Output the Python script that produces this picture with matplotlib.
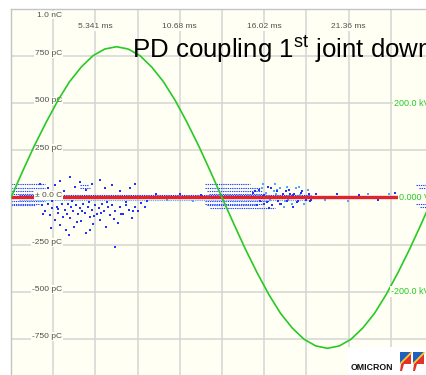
import matplotlib
matplotlib.use("Agg")
import matplotlib.pyplot as plt
from matplotlib.patches import Polygon, Rectangle

plt.rcParams["font.family"] = ["Liberation Sans", "DejaVu Sans"]
plt.rcParams["mathtext.fontset"] = "custom"
plt.rcParams["mathtext.rm"] = "Liberation Sans"

# -----------------------------------------------------------------------------
# data (one mains cycle, charge in pC, voltage in kV)
# -----------------------------------------------------------------------------
cycle_ms = 26.705
grid_ms = [2.67, 5.341, 8.01, 10.68, 13.35, 16.02, 18.69, 21.36, 24.03]
time_label_ms = [5.341, 10.68, 16.02, 21.36]
time_labels = ["5.341 ms", "10.68 ms", "16.02 ms", "21.36 ms"]

charge_grid = [-750, -500, -250, 0, 250, 500, 750]
charge_labels = ["-750 pC", "-500 pC", "-250 pC", "\u00b1 0.0 C",
                 "250 pC", "500 pC", "750 pC"]

volt_ticks = [200, 0, -200]
volt_labels = ["200.0 kV", "0.000 V", "-200.0 kV"]

voltage_ms = [0.0, 0.74, 1.48, 2.23, 2.97, 3.71, 4.45, 5.19, 5.93, 6.68,
              7.42, 8.16, 8.90, 9.64, 10.39, 11.13, 11.87, 12.61, 13.35,
              14.10, 14.84, 15.58, 16.32, 17.06, 17.80, 18.55, 19.29, 20.03,
              20.77, 21.51, 22.26, 23.00, 23.74, 24.48, 25.22, 25.96, 26.71]
voltage_kv = [0, 56, 110, 160, 206, 246, 277, 301, 315, 320, 315, 301, 277,
              246, 206, 160, 110, 56, 0, -56, -110, -160, -206, -246, -277,
              -301, -315, -320, -315, -301, -277, -246, -206, -160, -110, -56, 0]

# high-count band around zero (red in the PRPD colour scale)
band_ms = [0.0, 26.7]
band_pc = 0

# single PD pulses, dark blue
dark_ms = [1.96, 2.15, 2.34, 2.47, 2.59, 2.78, 2.91, 2.97, 3.10, 3.23, 3.29,
           3.42, 3.48, 3.61, 3.73, 3.80, 3.92, 3.99, 4.11, 4.24, 4.37, 4.43,
           4.56, 4.68, 4.75, 4.87, 5.00, 5.13, 5.19, 5.32, 5.44, 5.57, 5.63,
           5.76, 5.89, 6.01, 6.14, 6.26, 6.39, 6.58, 6.77, 6.90, 7.09, 7.28,
           7.47, 7.66, 7.85, 8.04, 6.58,
           2.05, 2.6, 3.0, 3.55, 3.85, 4.2, 4.5, 4.95, 5.25, 5.7, 6.1, 6.5,
           6.95, 7.3, 7.7, 8.2, 8.5, 2.5, 3.7, 5.0,
           1.84, 2.34, 2.78, 3.10, 3.35, 3.73, 4.05, 4.37, 4.75, 5.13, 5.63,
           5.95, 6.39, 6.90, 7.53, 7.85,
           15.44, 15.76, 16.01, 16.26, 16.52, 16.90, 17.15, 17.40, 17.66,
           17.91, 18.16, 18.41, 18.67, 18.92, 15.57, 16.33, 17.09, 17.85,
           15.3, 15.5, 15.7, 16.0, 16.2, 16.45, 16.6, 16.85, 17.0, 17.2,
           17.45, 17.6, 17.85, 18.1, 18.35, 18.6, 18.85, 19.0, 16.3, 17.55,
           9.2, 10.7, 12.0, 19.3, 20.6, 22.0, 23.2, 24.3, 8.6]
dark_pc = [-42, -69, -32, -95, -58, -122, -48, -80, -148, -37, -101,
           -64, -175, -32, -111, -53, -74, -154, -42, -90, -58, -127,
           -37, -80, -186, -48, -106, -64, -143, -42, -85, -58, -117,
           -37, -74, -159, -48, -95, -42, -69, -133, -48, -85, -42,
           -64, -111, -48, -74, -265,
           -85, -20, -60, -90, -20, -130, -70, -25, -100, -80, -25, -115,
           -90, -25, -70, -30, -50, -160, -200, -170,
           74, 48, 64, 90, 37, 111, 58, 80, 42, 69, 95,
           53, 64, 37, 48, 69,
           37, -16, -32, 58, -42, -21, 5, 32, 21,
           21, -16, 37, -11, -21, -42, -58, -37, -53,
           26, -5, 42, 11, -26, 48, -5, 32, -32, 16,
           -21, 42, 11, -26, 26, -5, 16, -11, 5, 5,
           16, 21, 11, 16, 21, 11, -11, 26, -21]

# single PD pulses, light blue
light_ms = [15.63, 15.88, 16.14, 16.39, 16.64, 16.77, 17.02, 17.28, 17.53,
            17.78, 18.03, 18.29, 18.54, 18.79, 15.95, 16.71, 17.47, 18.22,
            15.88, 17.34, 16.83, 17.72, 9.9, 11.5, 19.9, 21.3, 22.6, 23.9]
light_pc = [11, 48, 26, -11, 37, 16, 53, -48, -11,
            -32, 48, 11, -37, 42, 74, 69, 58, 58,
            -5, -21, 42, 5, -11, -16, -11, -16, 21, 16]

# dotted horizontal streaks of pulses (start ms, end ms, charge pC)
streak_start = [0.0, 0.0, 0.0, 0.0, 0.0, 0.0, 0.0, 4.37, 4.37,
                12.3, 12.3, 12.4, 12.5, 12.3, 12.3, 12.4, 12.6,
                25.6, 25.8, 25.6, 25.9, 0.5, 0.5]
streak_end = [2.15, 2.15, 1.96, 1.84, 2.15, 1.84, 1.52, 4.87, 5.0,
              15.1, 15.8, 15.9, 16.1, 16.3, 16.0, 15.5, 16.7,
              26.7, 26.7, 26.7, 26.7, 19.0, 19.0]
streak_pc = [69, 53, 37, 21, -16, -32, -42, 64, 48,
             74, 53, 37, 21, -16, -32, -42, -58,
             64, 48, -32, -48, 14, -13]
streak_color = ["#2244ff"] * 21 + ["#1a33ee", "#66aaff"]

bg = "#fffff3"
gray_txt = "#505050"
green = "#27c927"

# -----------------------------------------------------------------------------
# figure
# -----------------------------------------------------------------------------
fig = plt.figure(figsize=(4.26, 3.75), dpi=100)
ax = fig.add_axes([11 / 426, -11 / 375, 422 / 426, 377 / 375])
ax.set_facecolor(bg)
ax.set_xlim(0, cycle_ms)
ax.set_ylim(-1000, 1000)
ax.set_xticks(grid_ms)
ax.set_yticks(charge_grid)
ax.tick_params(length=0, labelbottom=False, labelleft=False)
ax.grid(color="#d4d4d4", linewidth=1.1, zorder=0)
ax.set_axisbelow(True)
for side in ["left", "top"]:
    ax.spines[side].set_color("#c4c4c4")
    ax.spines[side].set_linewidth(1.0)
for side in ["right", "bottom"]:
    ax.spines[side].set_visible(False)

# PD pattern
for x0, x1, q, c in zip(streak_start, streak_end, streak_pc, streak_color):
    ax.hlines(q, x0, x1, colors=c, linewidth=0.8, linestyles=(0, (1.2, 0.8)),
              zorder=2)
ax.hlines(band_pc, band_ms[0], band_ms[1], colors="#e2222c", linewidth=2.4,
          zorder=3)
ax.scatter(light_ms, light_pc, s=1.8, marker="s", color="#4da6ff",
           linewidths=0, zorder=2)
ax.scatter(dark_ms, dark_pc, s=1.8, marker="s", color="#1f33ff",
           linewidths=0, zorder=2)

# axis labels drawn inside the plot like the instrument screen
for q, lab in zip(charge_grid, charge_labels):
    ax.text(3.23, q + 4, lab, ha="right", va="baseline", fontsize=6.0,
            color=gray_txt, zorder=5,
            bbox=dict(facecolor=bg, edgecolor="none", pad=0.6))
ax.text(3.23, 968, "1.0 nC", ha="right", va="center", fontsize=6.0,
        color=gray_txt, zorder=5,
        bbox=dict(facecolor=bg, edgecolor="none", pad=0.6))
for t, lab in zip(time_label_ms, time_labels):
    ax.text(t, 905, lab, ha="center", va="center", fontsize=6.0,
            color=gray_txt, zorder=5,
            bbox=dict(facecolor=bg, edgecolor="none", pad=0.6))

# voltage on its own axis
axv = ax.twinx()
axv.set_ylim(-400, 400)
axv.set_xlim(0, cycle_ms)
axv.axis("off")
axv.plot(voltage_ms, voltage_kv, color=green, linewidth=1.2, zorder=4)
for v, lab in zip(volt_ticks, volt_labels):
    axv.text(26.5, v, lab, ha="right", va="center", fontsize=6.5,
             color=green, zorder=6,
             bbox=dict(facecolor=bg, edgecolor="none", pad=0.6))

# title
fig.text(132 / 426, (375 - 58) / 375,
         r"PD coupling 1$^{\mathrm{st}}$ joint downstream",
         fontsize=18.6, va="baseline", ha="left", color="black")

# OMICRON logo block
def fpx(x, y):
    return (x / 426, (375 - y) / 375)

fig.add_artist(Rectangle(fpx(348, 375), 78 / 426, 28 / 375,
                         transform=fig.transFigure, facecolor="white",
                         edgecolor="none", zorder=10))
fig.text(*fpx(351, 368), "OMICRON", fontsize=6.3, fontweight="bold",
         color="#111111", va="center", ha="left", zorder=11)
for x0 in [400, 413]:
    fig.add_artist(Polygon([fpx(x0, 352), fpx(x0 + 11, 352), fpx(x0, 364)],
                           closed=True, transform=fig.transFigure,
                           facecolor="#1f5fbf", edgecolor="none", zorder=11))
    fig.add_artist(Polygon([fpx(x0 + 11, 352), fpx(x0 + 11, 364),
                            fpx(x0 + 4, 364), fpx(x0 + 2, 371),
                            fpx(x0, 371), fpx(x0 + 1, 364)],
                           closed=True, transform=fig.transFigure,
                           facecolor="#e23030", edgecolor="none", zorder=11))
    fig.add_artist(plt.Line2D([fpx(x0 + 1, 363)[0], fpx(x0 + 11, 353)[0]],
                              [fpx(x0 + 1, 363)[1], fpx(x0 + 11, 353)[1]],
                              transform=fig.transFigure, color="#f5d020",
                              linewidth=1.2, zorder=12))

fig.savefig("out.png", dpi=100, facecolor="white")
